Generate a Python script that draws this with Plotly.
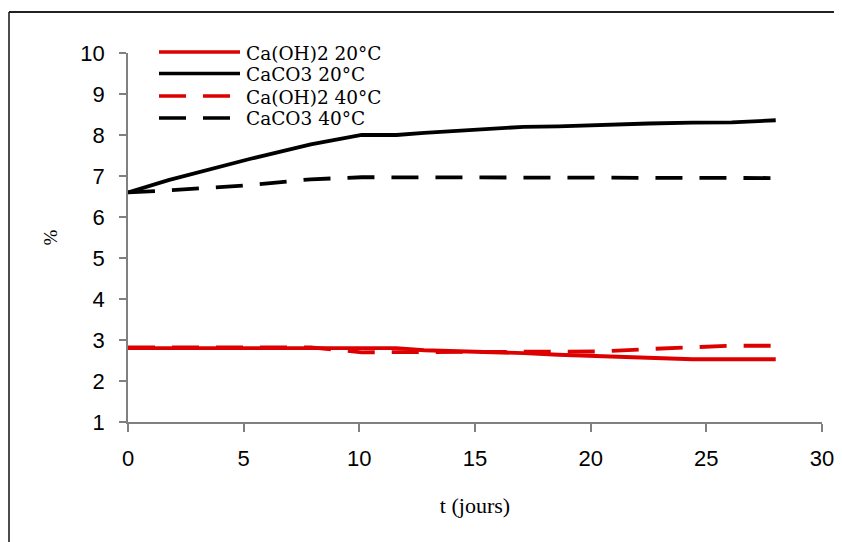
import plotly.graph_objects as go

# ---- data ----
t_days = [0, 1.75, 5.3, 7.9, 10.1, 11.6, 12.8, 15.3, 17.1, 18.6, 20.5, 22.5, 24.4, 26.1, 28]
caoh2_20 = [2.80, 2.80, 2.80, 2.80, 2.80, 2.80, 2.75, 2.72, 2.68, 2.64, 2.61, 2.57, 2.53, 2.53, 2.53]
caco3_20 = [6.60, 6.90, 7.42, 7.77, 8.00, 8.00, 8.05, 8.13, 8.20, 8.21, 8.25, 8.28, 8.30, 8.31, 8.36]
caoh2_40 = [2.82, 2.82, 2.82, 2.82, 2.70, 2.70, 2.70, 2.70, 2.70, 2.72, 2.72, 2.78, 2.83, 2.86, 2.86]
caco3_40 = [6.60, 6.65, 6.78, 6.92, 6.97, 6.97, 6.97, 6.97, 6.97, 6.97, 6.97, 6.95, 6.95, 6.95, 6.95]

series_names = ["Ca(OH)2 20°C", "CaCO3 20°C", "Ca(OH)2 40°C", "CaCO3 40°C"]
series_values = [caoh2_20, caco3_20, caoh2_40, caco3_40]

x_ticks = [0, 5, 10, 15, 20, 25, 30]
y_ticks = [1, 2, 3, 4, 5, 6, 7, 8, 9, 10]

# ---- styles ----
RED = "#DD0000"
BLACK = "#000000"
DASH = "27px,17px"
styles = [(RED, "solid"), (BLACK, "solid"), (RED, DASH), (BLACK, DASH)]

OFF = 8  # default page body margin
W, H = 842 - OFF, 542 - OFF
L, T = 120, 45
R = W - (822 - OFF)
B = H - (422 - OFF)
PW, PH = W - L - R, H - T - B


def px(xpage):
    return (xpage - OFF - L) / PW


def py(ypage):
    return (H - B - (ypage - OFF)) / PH


fig = go.Figure()
for name, vals, (col, dash) in zip(series_names, series_values, styles):
    fig.add_trace(go.Scatter(
        x=t_days, y=vals, name=name, mode="lines",
        line=dict(color=col, width=3.8, dash=dash),
        showlegend=False,
    ))

shapes = []
annotations = []
# manual legend (tight row spacing as in the reference)
rows = [52, 73.5, 96, 118]
for name, (col, dash), ry in zip(series_names, styles, rows):
    shapes.append(dict(type="line", xref="paper", yref="paper",
                       x0=px(159), x1=px(240), y0=py(ry), y1=py(ry),
                       line=dict(color=col, width=3.6, dash=dash)))
    annotations.append(dict(xref="paper", yref="paper", x=px(245), y=py(ry + 1),
                            xanchor="left", yanchor="middle", showarrow=False,
                            text=name, borderpad=0,
                            font=dict(family="DejaVu Serif", size=18.5, color="black")))

# outer frame (left and top edges visible)
shapes.append(dict(type="line", xref="paper", yref="paper",
                   x0=px(9), x1=px(842 + 10), y0=py(12), y1=py(12),
                   line=dict(color="#222222", width=2)))
shapes.append(dict(type="line", xref="paper", yref="paper",
                   x0=px(9), x1=px(9), y0=py(12), y1=py(542 + 10),
                   line=dict(color="#111111", width=1.5)))

fig.update_layout(
    width=W, height=H,
    margin=dict(l=L, r=R, t=T, b=B, autoexpand=False),
    paper_bgcolor="white", plot_bgcolor="white",
    shapes=shapes, annotations=annotations,
    showlegend=False,
    xaxis=dict(
        range=[0, 30], tickvals=x_ticks, ticktext=[str(v) for v in x_ticks],
        automargin=False, ticklabeloverflow="allow",
        showgrid=False, zeroline=False, showline=True, linecolor="#808080", linewidth=1.5,
        ticks="outside", ticklen=8, tickcolor="#808080", tickwidth=1.5,
        tickfont=dict(family="Liberation Sans", size=22, color="black"),
        ticklabelstandoff=8,
        title=dict(text="t (jours)", standoff=27,
                   font=dict(family="Liberation Serif", size=22, color="black")),
    ),
    yaxis=dict(
        range=[1, 10], tickvals=y_ticks, ticktext=[str(v) for v in y_ticks],
        automargin=False,
        showgrid=False, zeroline=False, showline=True, linecolor="#808080", linewidth=1.5,
        ticks="outside", ticklen=7, tickcolor="#808080", tickwidth=1.5,
        tickfont=dict(family="Liberation Sans", size=22, color="black"),
        ticklabelstandoff=10,
        title=dict(text="%", standoff=18,
                   font=dict(family="Liberation Serif", size=19, color="black")),
    ),
)

fig.write_html("out.html")
